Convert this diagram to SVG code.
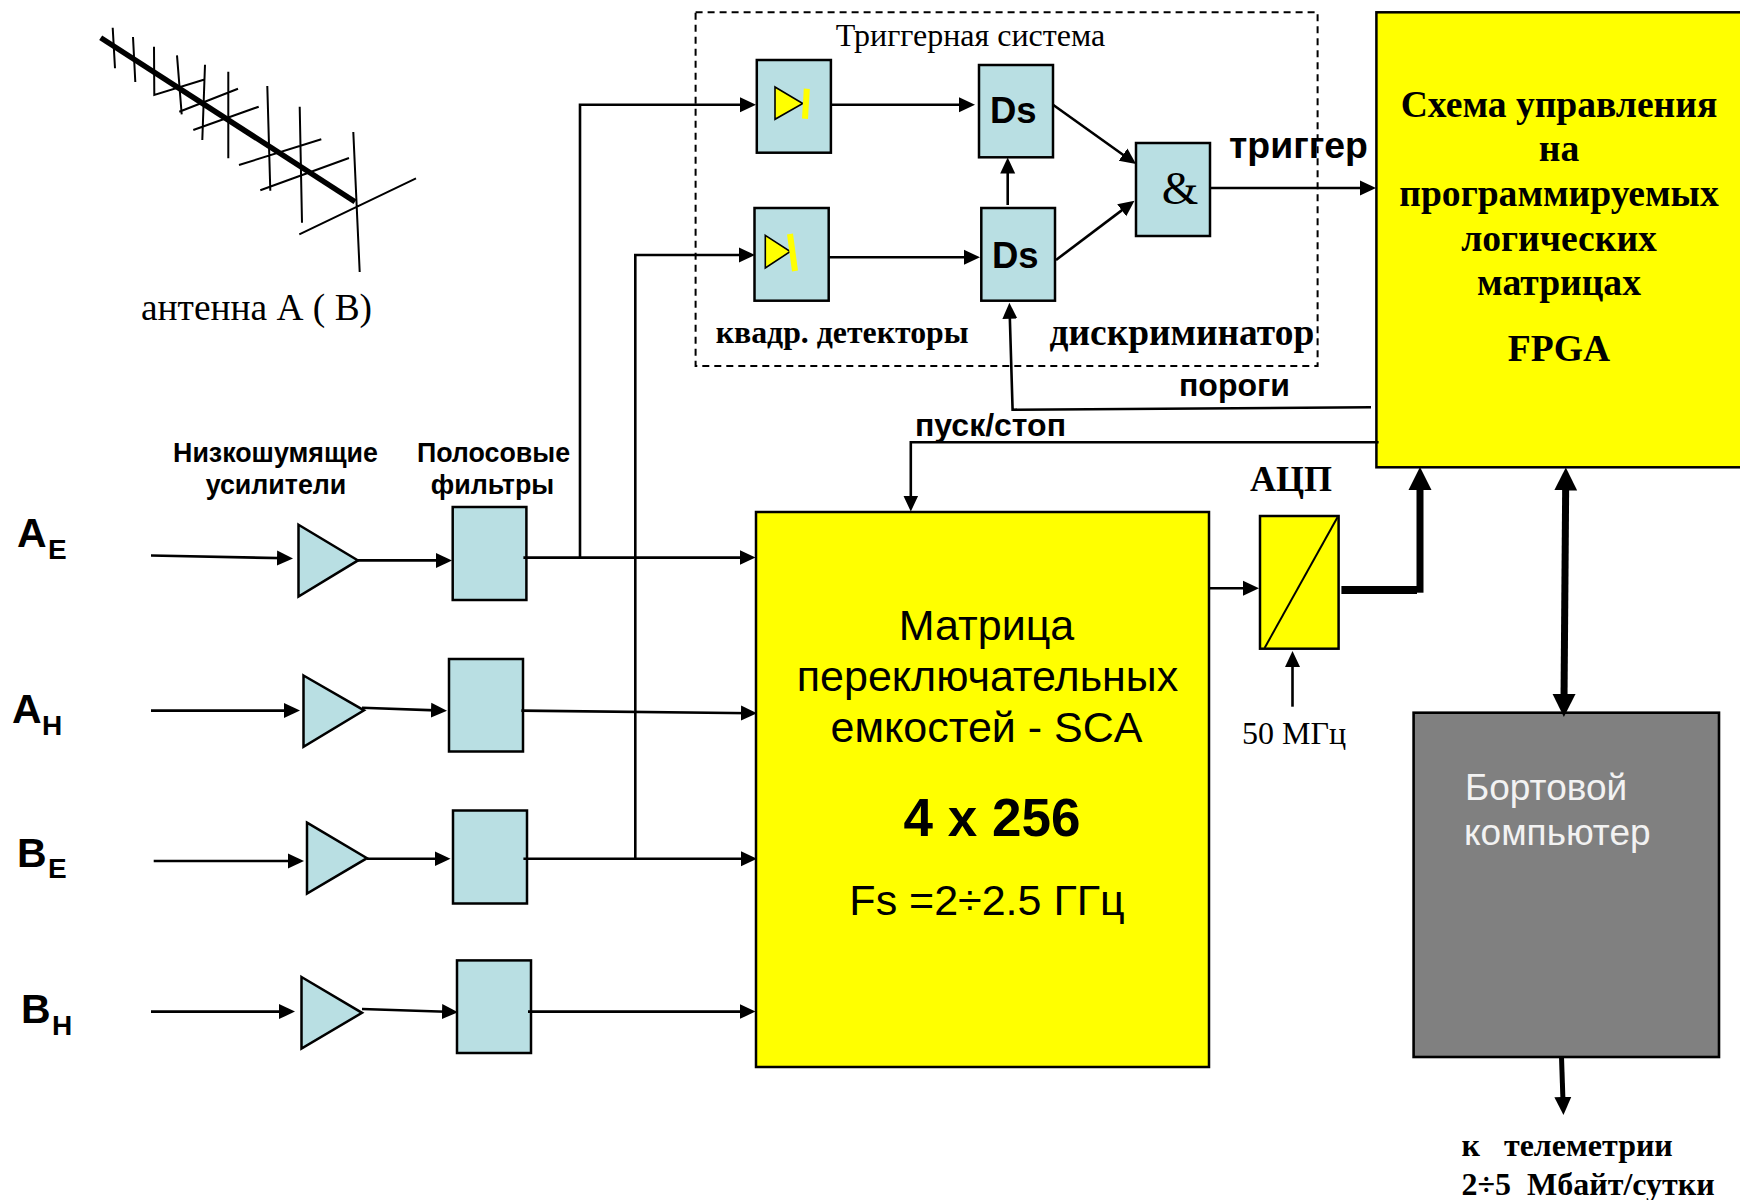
<svg xmlns="http://www.w3.org/2000/svg" width="1740" height="1200" viewBox="0 0 1740 1200">
<style>
.t{fill:#b9dfe3;stroke:#000;stroke-width:2.5}
.y{fill:#ff0;stroke:#000;stroke-width:2.5}
.g{fill:#808080;stroke:#000;stroke-width:2.6}
.c{fill:none;stroke:#000;stroke-width:2.6}
.a{marker-end:url(#ah)}
.th{fill:none;stroke:#000;stroke-width:7}
.ant{stroke:#000;stroke-width:2;fill:none}
.bar{stroke:#ff0;stroke-width:6;fill:none}
.dt{fill:#ff0;stroke:#000;stroke-width:1.6}
text{fill:#000}
.s{font-family:"Liberation Sans",Arial,sans-serif}
.r{font-family:"Liberation Serif","Times New Roman",serif}
.b{font-weight:bold}
.m{text-anchor:middle}
</style>
<defs>
<marker id="ah" markerUnits="userSpaceOnUse" markerWidth="17" markerHeight="17" refX="12" refY="8" orient="auto"><path d="M0,.5L16,8L0,15.5z"/></marker>
<marker id="ahb" markerUnits="userSpaceOnUse" markerWidth="20" markerHeight="20" refX="10" refY="9" orient="auto"><path d="M0,.5L18,9L0,17.5z"/></marker>
<marker id="big" markerUnits="userSpaceOnUse" markerWidth="24" markerHeight="24" refX="6" refY="12" orient="auto-start-reverse"><path d="M0,.5L23,12L0,23.5z"/></marker>
</defs>
<g id="trigger-frame"><rect x="695.6" y="12.3" width="622" height="353.7" fill="none" stroke="#000" stroke-width="2" stroke-dasharray="7 5"/><text class="r m" x="970.5" y="46" font-size="32">Триггерная система</text></g>
<g id="antenna">
<path class="ant" d="M112.7,27.7L115,68.3M133,37L135.3,82M154,46.7L154.3,95L205.3,79.3M177,55.3L181.7,114.3M205,64.7L202.3,140M179.3,111.7L238,88.7M193.3,130L258.7,106.7M228.3,71.7L228.3,158.3M267.3,86L270.3,190.7M239,165L321.3,139.3M260.3,190.3L349,158M299.7,106.7L302,222.7M353.3,132L359.7,272M299.3,234.3L416,178.3"/>
<path d="M100.7,37.7L355,201.7" fill="none" stroke="#000" stroke-width="5.5"/>
<text class="r" x="141" y="320" font-size="37.4">антенна А ( В)</text>
</g>
<g id="amp-ae"><path class="t" d="M298.5,524.8L358,560.4L298.5,596.6z"/></g>
<g id="amp-ah"><path class="t" d="M303.5,675.5L364,710.3L303.5,746.7z"/></g>
<g id="amp-be"><path class="t" d="M307,822.6L367,858.2L307,893.6z"/></g>
<g id="amp-bh"><path class="t" d="M301.5,977L362,1012.8L301.5,1048.6z"/></g>
<g id="filter-ae"><rect class="t" x="452.7" y="507" width="73.7" height="93"/></g>
<g id="filter-ah"><rect class="t" x="449" y="659" width="74" height="92.5"/></g>
<g id="filter-be"><rect class="t" x="453" y="810.5" width="74" height="93"/></g>
<g id="filter-bh"><rect class="t" x="457" y="960.4" width="74" height="92.6"/></g>
<g id="det1"><rect class="t" x="756.8" y="60" width="74.1" height="92.7"/><path class="dt" d="M775,87L802.8,103.5L775,119.3z"/><path class="bar" d="M806.8,88.7L805,118.7"/></g>
<g id="det2"><rect class="t" x="754.5" y="208" width="74.2" height="92.7"/><path class="dt" d="M765.3,235.3L790.3,251.5L765.3,268z"/><path class="bar" d="M790,234L795,271"/></g>
<g id="ds1"><rect class="t" x="979" y="65" width="74" height="92.3"/><text class="s b" x="990" y="123" font-size="36.5">Ds</text></g>
<g id="ds2"><rect class="t" x="981.3" y="208" width="73.7" height="92.7"/><text class="s b" x="992" y="268" font-size="36.5">Ds</text></g>
<g id="and"><rect class="t" x="1136" y="143" width="74" height="93"/><text class="r m" x="1180" y="204" font-size="47">&amp;</text></g>
<g id="fpga"><rect class="y" x="1376.4" y="12.3" width="380" height="455"/>
<g class="r b m" font-size="37.6"><text x="1559" y="117">Схема управления</text><text x="1559" y="161">на</text><text x="1559" y="206">программируемых</text><text x="1559" y="251">логических</text><text x="1559" y="295">матрицах</text><text x="1559" y="361">FPGA</text></g></g>
<g id="sca"><rect class="y" x="756" y="512" width="453" height="555"/>
<g class="s m"><text x="986.5" y="640" font-size="43">Матрица</text><text x="987.5" y="691" font-size="43">переключательных</text><text x="986.5" y="742" font-size="43">емкостей - SCA</text><text class="b" x="992" y="835.6" font-size="53">4 x 256</text><text x="987" y="914.5" font-size="43">Fs =2÷2.5 ГГц</text></g></g>
<g id="adc"><rect class="y" x="1260" y="516" width="78.6" height="132.7"/><path d="M1337.5,517.3L1264.6,648" fill="none" stroke="#000" stroke-width="2"/><text class="r b m" x="1291" y="490.7" font-size="36">АЦП</text></g>
<g id="computer"><rect class="g" x="1413.6" y="712.7" width="305.4" height="344.3"/><g class="s" font-size="37"><text x="1465" y="800" style="fill:#f2f2f2">Бортовой</text><text x="1464" y="844.5" style="fill:#f2f2f2">компьютер</text></g></g>
<g id="connectors">
<path class="c a" d="M151,555.5L289,558.3"/><path class="c a" d="M358,560.4H448"/><path class="c a" d="M523.4,557.6H751.5"/>
<path class="c a" d="M151,710.6H296"/><path class="c a" d="M362,707.7L443,710.6"/><path class="c a" d="M521.4,710.6L753,713.2"/>
<path class="c a" d="M153.7,861H300"/><path class="c a" d="M367,858.8H446.5"/><path class="c a" d="M523.4,858.8H753"/>
<path class="c a" d="M151,1011.6H291"/><path class="c a" d="M362,1009L454,1012"/><path class="c a" d="M528,1011.6H751.5"/>
<path class="c a" d="M580,557.6V104.7H752"/><path class="c a" d="M635.3,858.8V255H751"/>
<path class="c a" d="M831,104.7H971"/><path class="c a" d="M829,257.3H976"/>
<path class="c a" d="M1053,104.7L1132.8,161.7"/><path class="c a" d="M1056,260L1131.3,203.1"/>
<path class="c a" d="M1007.7,205V161.5"/><path class="c a" d="M1371,407.3L1012.6,409.7L1009.5,306.7"/>
<path class="c a" d="M1378.6,442.3H910.8V507.5"/><path class="c a" d="M1210,188H1372"/>
<path class="c a" d="M1209,588.3H1255"/><path class="c a" d="M1292.5,706.7V655"/>
<path class="th" style="stroke-width:8" d="M1341.4,590H1417"/><path class="th" d="M1420,592.7V484" style="marker-end:url(#big)"/>
<path class="th" d="M1565.7,484.5L1564,700" style="marker-start:url(#big);marker-end:url(#big)"/>
<path fill="none" stroke="#000" stroke-width="5" d="M1561.5,1057L1563.2,1107" style="marker-end:url(#ahb)"/>
</g>
<g id="labels">
<g class="s b m" font-size="26.8"><text x="275.5" y="461.5">Низкошумящие</text><text x="276" y="493.5">усилители</text><text x="493.5" y="461.5">Полосовые</text><text x="492.5" y="493.5">фильтры</text></g>
<text class="s b" x="17" y="546.5" font-size="41">A</text><text class="s b" x="48" y="559" font-size="28">E</text>
<text class="s b" x="12" y="723" font-size="41">A</text><text class="s b" x="42" y="735" font-size="28">H</text>
<text class="s b" x="17" y="866.5" font-size="41">B</text><text class="s b" x="48" y="877.5" font-size="28">E</text>
<text class="s b" x="21" y="1023" font-size="41">B</text><text class="s b" x="52" y="1035" font-size="28">H</text>
<text class="r b" x="715.7" y="343" font-size="31.8">квадр. детекторы</text>
<text class="r b" x="1049.6" y="345" font-size="37.4">дискриминатор</text>
<text class="s b" x="1229" y="158" font-size="37.4">триггер</text>
<text class="s b" x="1179" y="396" font-size="32">пороги</text>
<text class="s b" x="915" y="436" font-size="32">пуск/стоп</text>
<text class="r" x="1242" y="744" font-size="32">50 МГц</text>
<text class="r b" x="1461.5" y="1156" font-size="32" xml:space="preserve">к   телеметрии</text>
<text class="r b" x="1461.5" y="1195" font-size="32" xml:space="preserve">2÷5  Мбайт/сутки</text>
</g>
</svg>
